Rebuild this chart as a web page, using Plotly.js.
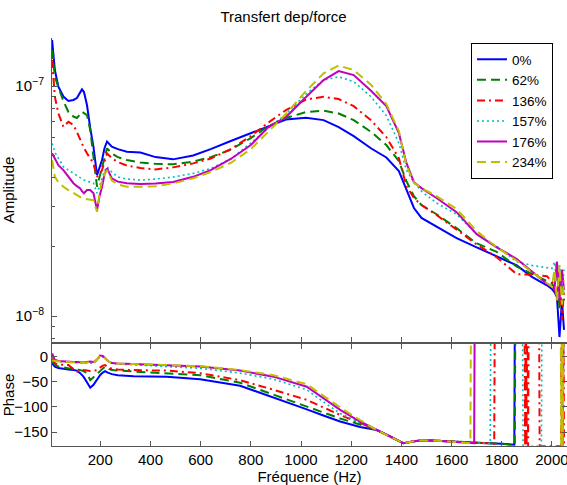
<!DOCTYPE html>
<html><head><meta charset="utf-8">
<script src="https://cdn.plot.ly/plotly-3.0.1.min.js"></script>
<style>html,body{margin:0;padding:0;background:#fff}#chart{width:567px;height:485px}</style>
</head><body><div id="chart"></div>
<script>
// ---- data ----
const seriesNames = ['0%', '62%', '136%', '157%', '176%', '234%'];

// amplitude frequency grid (Hz)
const freq = [8,19,33,53,73,93,107,120,127,135,147,160,173,187,197,207,217,227,246,270,306,360,420,490,570,640,720,800,870,940,1020,1090,1150,1210,1280,1340,1390,1420,1450,1480,1540,1620,1700,1780,1860,1920,1980,2000,2010,2020,2030,2040,2048];

const amp0 = [1.585e-7,1.174e-7,9.93e-8,9.0e-8,8.61e-8,8.7e-8,8.87e-8,9.42e-8,9.67e-8,9.42e-8,
8.27e-8,6.57e-8,5.43e-8,4.10e-8,4.4e-8,4.77e-8,5.38e-8,5.73e-8,5.45e-8,5.32e-8,
5.18e-8,5.14e-8,4.91e-8,4.80e-8,4.99e-8,5.32e-8,5.77e-8,6.24e-8,6.70e-8,7.15e-8,
7.28e-8,7.11e-8,6.63e-8,6.06e-8,5.35e-8,4.89e-8,4.27e-8,3.56e-8,2.95e-8,2.67e-8,
2.44e-8,2.18e-8,1.99e-8,1.82e-8,1.66e-8,1.48e-8,1.36e-8,1.31e-8,1.27e-8,1.21e-8,
8.1e-9,1.17e-8,8.7e-9];
const amp62 = [1.434e-7,1.097e-7,9.9e-8,8.61e-8,7.71e-8,7.37e-8,7.26e-8,7.56e-8,7.73e-8,7.63e-8,
7.48e-8,6.44e-8,4.93e-8,3.65e-8,4.02e-8,4.46e-8,4.91e-8,5.36e-8,5.09e-8,4.91e-8,
4.77e-8,4.65e-8,4.59e-8,4.57e-8,4.69e-8,4.91e-8,5.29e-8,5.94e-8,6.7e-8,7.26e-8,
7.71e-8,7.82e-8,7.6e-8,7.11e-8,6.31e-8,5.54e-8,4.72e-8,3.86e-8,3.32e-8,3.04e-8,
2.77e-8,2.41e-8,2.07e-8,1.90e-8,1.64e-8,1.52e-8,1.42e-8,1.39e-8,1.32e-8,1.72e-8,
1.06e-8,1.5e-8,1.17e-8];
const amp136 = [1.297e-7,8.98e-8,7.61e-8,6.65e-8,7.0e-8,6.77e-8,6.31e-8,5.82e-8,5.6e-8,5.38e-8,
5.10e-8,4.86e-8,4.61e-8,4.03e-8,4.14e-8,4.31e-8,4.72e-8,5.10e-8,4.86e-8,4.67e-8,
4.51e-8,4.40e-8,4.34e-8,4.43e-8,4.61e-8,4.84e-8,5.32e-8,6.06e-8,6.94e-8,7.86e-8,
8.74e-8,8.98e-8,8.78e-8,8.18e-8,7.08e-8,6.0e-8,4.86e-8,3.67e-8,3.26e-8,3.04e-8,
2.75e-8,2.37e-8,2.05e-8,1.80e-8,1.52e-8,1.51e-8,1.49e-8,1.41e-8,1.36e-8,1.17e-8,
1.59e-8,9.6e-9,1.3e-8];
const amp157 = [5.63e-8,5.16e-8,4.86e-8,4.46e-8,4.31e-8,4.17e-8,4.06e-8,3.98e-8,3.94e-8,3.90e-8,
3.86e-8,3.82e-8,3.78e-8,3.42e-8,3.71e-8,4.03e-8,4.27e-8,4.46e-8,4.23e-8,4.02e-8,
3.94e-8,3.90e-8,3.94e-8,4.02e-8,4.17e-8,4.38e-8,4.82e-8,5.65e-8,6.57e-8,7.56e-8,
9.23e-8,1.062e-7,1.097e-7,1.046e-7,8.96e-8,7.44e-8,5.65e-8,4.31e-8,3.82e-8,3.49e-8,
3.10e-8,2.77e-8,2.27e-8,2.01e-8,1.72e-8,1.66e-8,1.63e-8,1.61e-8,1.72e-8,1.43e-8,
1.66e-8,1.3e-8,1.59e-8];
const amp176 = [5.10e-8,4.86e-8,4.53e-8,4.31e-8,4.02e-8,3.78e-8,3.67e-8,3.59e-8,3.49e-8,3.42e-8,
3.53e-8,3.53e-8,3.42e-8,2.89e-8,3.32e-8,3.65e-8,4.14e-8,4.39e-8,3.97e-8,3.84e-8,
3.78e-8,3.75e-8,3.77e-8,3.83e-8,4.03e-8,4.31e-8,4.82e-8,5.54e-8,6.63e-8,7.33e-8,
8.96e-8,1.062e-7,1.162e-7,1.116e-7,9.51e-8,8.18e-8,6.24e-8,4.63e-8,3.82e-8,3.60e-8,
3.26e-8,2.83e-8,2.27e-8,1.99e-8,1.77e-8,1.57e-8,1.38e-8,1.35e-8,1.3e-8,1.72e-8,
1.17e-8,1.59e-8,1.3e-8];
const amp234 = [4.77e-8,4.03e-8,3.82e-8,3.65e-8,3.53e-8,3.42e-8,3.34e-8,3.29e-8,3.26e-8,3.24e-8,
3.22e-8,3.20e-8,3.19e-8,2.84e-8,3.43e-8,3.90e-8,4.14e-8,4.31e-8,3.88e-8,3.73e-8,
3.65e-8,3.65e-8,3.67e-8,3.77e-8,3.97e-8,4.23e-8,4.63e-8,5.32e-8,6.31e-8,7.56e-8,
9.51e-8,1.136e-7,1.228e-7,1.174e-7,1.01e-7,8.35e-8,6.37e-8,4.53e-8,3.79e-8,3.60e-8,
3.32e-8,2.92e-8,2.34e-8,1.99e-8,1.74e-8,1.55e-8,1.39e-8,1.34e-8,1.59e-8,1.17e-8,
1.66e-8,1.12e-8,1.43e-8];

// phase frequency grid (Hz) and phase (deg)
const phaseFreq = [8,19,33,53,73,93,107,120,133,147,160,173,187,199,210,219,230,246,270,333,465,598,757,890,1023,1089,1156,1235,1302,1350,1408,1440,1480,1540,1600];
const ph0   = [-13.5,-20,-23,-25,-26,-27,-28,-33,-40,-51,-62,-56,-46,-37,-32,-29,-32,-35,-37,-39,-40,-45,-58,-81,-105,-117,-129,-140,-146,-157,-172,-169,-166,-167,-169];
const ph62  = [-10,-16,-20,-22,-23.5,-24,-25,-27,-29,-33,-47,-42,-35,-29,-24,-20,-24,-27,-28,-30,-33,-37,-52,-76,-100,-111,-123,-135,-146,-158,-172,-169,-166,-167,-169];
const ph136 = [-4,-13.5,-16,-17,-17,-25,-30,-28,-27,-28,-29,-28,-27,-22,-18,-17,-21,-24,-26,-27,-28,-33,-47,-66,-86,-101,-116,-132,-146,-158,-172,-169,-166,-167,-169];
const ph157 = [0,-6,-10,-11,-12,-12,-13,-13,-13.5,-13.5,-13.5,-13.5,-8,0,-1,-3,-8,-13,-15,-17,-20,-23.5,-33,-45,-66,-90,-113,-131,-146,-158,-172,-169,-166,-167,-169];
const ph176 = [6,-7,-9,-10,-10,-11,-11,-12,-12,-11,-10,-11,-6,2,1,-3,-9,-13,-14,-15,-17,-20,-28,-40,-60,-83,-106,-129,-146,-158,-172,-169,-166,-167,-169];
const ph234 = [-8,-9,-10,-11,-11,-12,-12,-12,-13,-12,-11,-12,-6,2,1,-3,-9,-13,-14,-15,-17,-19,-27,-37,-55,-78,-101,-126,-146,-158,-172,-169,-166,-167,-169];

// phase tails with wrap-around jumps (deg)
const tailF0   = [1700,1800,1850,1853,2048];
const tailP0   = [-171,-173,-175,185,185];
const tailF62  = [1700,1800,1852,1855,2048];
const tailP62  = [-171,-173,-176,185,185];
const tailF136 = [1700,1770,1773,1890,1893,1896,1899,1902,1905,1908,1948,1951,2036,2039,2042,2045,2048];
const tailP136 = [-171,-173,185,185,-178,185,-178,185,-178,185,185,-178,-178,185,-178,185,-178];
const tailF157 = [1700,1754,1757,1882,1885,1958,1961,2048];
const tailP157 = [-171,-173,185,185,-178,-178,185,185];
const tailF176 = [1690,1693,2040,2043,2046,2048];
const tailP176 = [-172,185,185,-178,185,185];
const tailF234 = [1675,1678,2034,2037,2040,2043,2046,2048];
const tailP234 = [-172,185,185,-178,185,-178,185,185];

const freqTicks = [200,400,600,800,1000,1200,1400,1600,1800,2000];
const ampTicks = [1e-8, 1e-7];
const ampTickText = ['10<sup>\u22128</sup>', '10<sup>\u22127</sup>'];
const ampMinorTicks = [8e-9,9e-9,2e-8,3e-8,4e-8,5e-8,6e-8,7e-8,8e-8,9e-8];
const phaseTicks = [-150,-100,-50,0];

// ---- styling ----
const colors = ['#0000ff','#008000','#ff0000','#00bfbf','#bf00bf','#bfbf00'];
const dashes = ['solid','9px,5px','8px,4px,2px,4px','2px,3px','solid','9px,5px'];
const widths = [2,2,2,1.6,2,2];

const amps = [amp0, amp62, amp136, amp157, amp176, amp234];
const phs = [ph0, ph62, ph136, ph157, ph176, ph234];
const tf = [tailF0, tailF62, tailF136, tailF157, tailF176, tailF234];
const tp = [tailP0, tailP62, tailP136, tailP157, tailP176, tailP234];

const traces = [];
for (let i = 0; i < 6; i++) {
  traces.push({
    x: freq, y: amps[i], xaxis: 'x', yaxis: 'y', type: 'scatter', mode: 'lines',
    name: seriesNames[i], showlegend: true,
    line: {color: colors[i], dash: dashes[i], width: widths[i]}
  });
}
for (let i = 0; i < 6; i++) {
  traces.push({
    x: phaseFreq.concat(tf[i]), y: phs[i].concat(tp[i]), xaxis: 'x2', yaxis: 'y2',
    type: 'scatter', mode: 'lines', name: seriesNames[i], showlegend: false,
    line: {color: colors[i], dash: dashes[i], width: widths[i]}
  });
}

const axCol = '#555';
const layout = {
  width: 567, height: 485,
  margin: {l: 52, r: 0, t: 38, b: 39},
  paper_bgcolor: '#fff', plot_bgcolor: '#fff',
  font: {family: 'Liberation Sans, Arial, sans-serif', size: 15, color: '#000'},
  title: {text: 'Transfert dep/force', x: 0.5, xref: 'container', xanchor: 'center',
          y: 1 - 17/485, yref: 'container', yanchor: 'middle', font: {size: 15, color: '#000'}},
  showlegend: true,
  legend: {x: (471-52)/515, y: (446-43)/408, xanchor: 'left', yanchor: 'top',
           bgcolor: '#fff', bordercolor: '#000', borderwidth: 1, font: {size: 13.5},
           tracegroupgap: 0},
  xaxis: {domain: [0, 1], anchor: 'y', range: [7.6, 2060], tickmode: 'array', tickvals: freqTicks,
          showticklabels: false, ticks: 'inside', ticklen: 5, tickcolor: axCol,
          showline: true, linecolor: axCol, linewidth: 1, showgrid: false, zeroline: false},
  yaxis: {domain: [0.2549, 1], anchor: 'x', type: 'log', range: [-8.113, -6.791],
          tickmode: 'array', tickvals: ampTicks, ticktext: ampTickText,
          ticks: 'inside', ticklen: 5, tickcolor: axCol, ticklabelstandoff: 4,
          minor: {tickmode: 'array', tickvals: ampMinorTicks, ticks: 'inside', ticklen: 3, tickcolor: axCol, showgrid: false},
          showline: true, linecolor: axCol, linewidth: 1, showgrid: false, zeroline: false,
          title: {text: 'Amplitude', font: {size: 15}, standoff: 4}},
  xaxis2: {domain: [0, 1], anchor: 'y2', range: [7.6, 2060], tickmode: 'array', tickvals: freqTicks,
           ticks: 'inside', ticklen: 5, tickcolor: axCol, mirror: 'ticks', ticklabeloverflow: 'allow',
           showline: true, linecolor: axCol, linewidth: 1, showgrid: false, zeroline: false,
           title: {text: 'Fréquence (Hz)', font: {size: 15}, standoff: 2}},
  yaxis2: {domain: [0, 0.25], anchor: 'x2', range: [-177.6, 24.8], tickmode: 'array', tickvals: phaseTicks,
           ticks: 'inside', ticklen: 5, tickcolor: axCol, mirror: 'ticks',
           showline: true, linecolor: axCol, linewidth: 1, showgrid: false, zeroline: false,
           title: {text: 'Phase', font: {size: 15}}}
};

Plotly.newPlot('chart', traces, layout, {displayModeBar: false, staticPlot: true});
</script>
</body></html>
